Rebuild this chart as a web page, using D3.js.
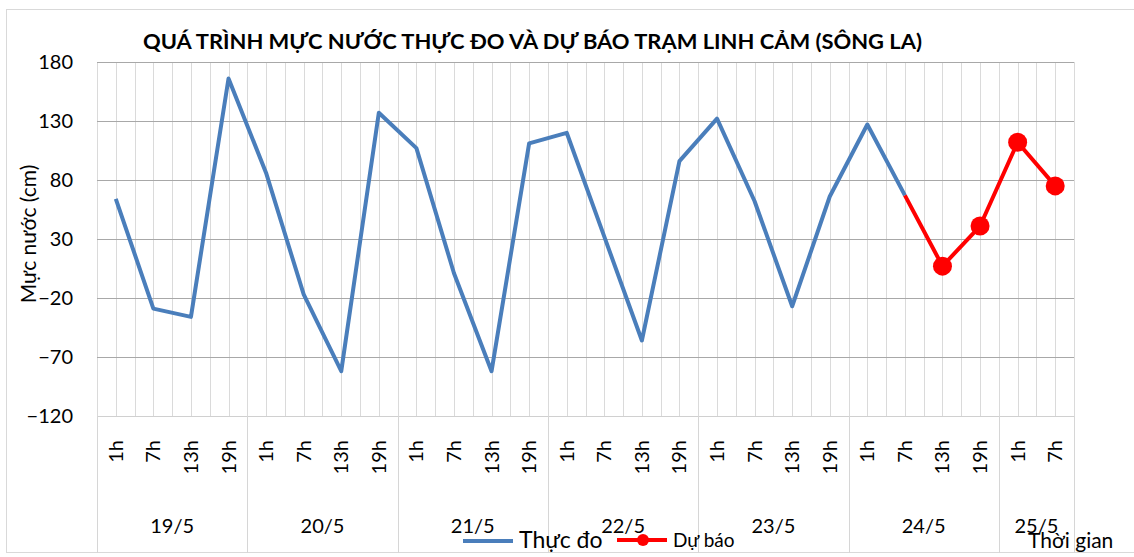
<!DOCTYPE html>
<html>
<head>
<meta charset="utf-8">
<script src="https://cdn.jsdelivr.net/npm/d3@7"></script>
<style>
  html, body { margin: 0; padding: 0; background: #ffffff; }
  svg { display: block; }
  text { font-family: "Lato", "Open Sans", sans-serif; fill: #000; }
</style>
</head>
<body>
<svg id="chart" width="1134" height="557"></svg>
<script>
// ---------- DATA ----------
const days = ["19/5", "20/5", "21/5", "22/5", "23/5", "24/5", "25/5"];
const hoursPerDay = [
  ["1h", "7h", "13h", "19h"],
  ["1h", "7h", "13h", "19h"],
  ["1h", "7h", "13h", "19h"],
  ["1h", "7h", "13h", "19h"],
  ["1h", "7h", "13h", "19h"],
  ["1h", "7h", "13h", "19h"],
  ["1h", "7h"]
];
// Observed water level (cm), 19/5 1h .. 24/5 7h
const observed = [64, -29, -36, 166, 86, -17, -82, 137,
                  107, 1, -82, 111, 120, 32, -56, 96,
                  132, 62, -27, 66, 127, 67];
// Forecast water level (cm), 24/5 13h .. 25/5 7h
const forecast = [7, 41, 112, 75];
const yTicks = [-120, -70, -20, 30, 80, 130, 180];
const titleText = "QUÁ TRÌNH MỰC NƯỚC THỰC ĐO VÀ DỰ BÁO TRẠM LINH CẢM (SÔNG LA)";
const yTitle = "Mực nước (cm)";
const xTitle = "Thời gian";
const legendNames = ["Thực đo", "Dự báo"];

// ---------- BUILD ----------
const categories = [];
hoursPerDay.forEach((hs, di) => hs.forEach(h => categories.push({ day: days[di], dayIndex: di, hour: h })));
const nCat = categories.length;

const svg = d3.select("#chart");
const W = 1134, H = 557;
const plot = { left: 97, right: 1074, top: 62, bottom: 416 };

const x = d3.scaleBand().domain(d3.range(nCat)).range([plot.left, plot.right]).padding(0);
const bw = x.bandwidth();
const cx = i => x(i) + bw / 2;
const y = d3.scaleLinear().domain([-120, 180]).range([plot.bottom, plot.top]);

// outer chart border
svg.append("rect").attr("x", 6.5).attr("y", 9.5).attr("width", W).attr("height", 543)
  .attr("fill", "#fff").attr("stroke", "#d9d9d9");

// vertical minor gridlines (band edges and centres)
const vLines = [];
for (let i = 0; i < nCat; i++) { vLines.push(x(i)); vLines.push(cx(i)); }
vLines.push(plot.right);
svg.append("g").selectAll("line").data(vLines).join("line")
  .attr("x1", d => Math.round(d) + 0.5).attr("x2", d => Math.round(d) + 0.5)
  .attr("y1", plot.top).attr("y2", plot.bottom)
  .attr("stroke", "#dadada").attr("stroke-width", 1);

// horizontal gridlines
svg.append("g").selectAll("line").data(yTicks).join("line")
  .attr("x1", plot.left).attr("x2", plot.right)
  .attr("y1", d => Math.round(y(d)) + 0.5).attr("y2", d => Math.round(y(d)) + 0.5)
  .attr("stroke", d => d === -120 ? "#d0d0d0" : "#a8a8a8").attr("stroke-width", 1);

// y axis labels
const yAxis = d3.axisLeft(y).tickValues(yTicks).tickSize(0).tickPadding(24);
const gy = svg.append("g").attr("transform", `translate(${plot.left},0)`).call(yAxis);
gy.select(".domain").remove();
gy.selectAll("text").style("font-family", "Lato, sans-serif").style("font-size", "20px").attr("fill", "#000");

// day group separators
const dayStarts = [];
let idx = 0;
hoursPerDay.forEach(hs => { dayStarts.push(idx); idx += hs.length; });
const sepX = dayStarts.map(s => x(s)).concat([plot.right]);
svg.append("g").selectAll("line").data(sepX).join("line")
  .attr("x1", d => Math.round(d) + 0.5).attr("x2", d => Math.round(d) + 0.5)
  .attr("y1", plot.bottom).attr("y2", 553)
  .attr("stroke", "#d6d6d6");

// hour labels (rotated)
svg.append("g").selectAll("text").data(categories).join("text")
  .attr("transform", (d, i) => `translate(${cx(i) + 7},440) rotate(-90)`)
  .attr("text-anchor", "end")
  .style("font-size", "20px")
  .text(d => d.hour);

// day labels
svg.append("g").selectAll("text").data(days).join("text")
  .attr("x", (d, i) => (x(dayStarts[i]) + (i + 1 < days.length ? x(dayStarts[i + 1]) : plot.right)) / 2)
  .attr("y", 533)
  .attr("text-anchor", "middle")
  .style("font-size", "20px")
  .text(d => d);

// title
svg.append("text").attr("x", 143).attr("y", 49)
  .attr("textLength", 779).attr("lengthAdjust", "spacingAndGlyphs")
  .style("font-size", "21px").style("font-weight", "bold")
  .text(titleText);

// y title
svg.append("text").attr("transform", "translate(36,234) rotate(-90)")
  .attr("text-anchor", "middle")
  .style("font-size", "21px")
  .text(yTitle);

// x title
svg.append("text").attr("x", 1028).attr("y", 548)
  .style("font-size", "21px")
  .text(xTitle);

// lines
const blue = "#4a7ebb", red = "#ff0000";
const obsPts = observed.map((v, i) => [cx(i), y(v)]);
const lastObs = observed.length - 1;
const fcPts = [[cx(lastObs), y(observed[lastObs])]].concat(forecast.map((v, k) => [cx(lastObs + 1 + k), y(v)]));
const line = d3.line();
svg.append("path").attr("d", line(obsPts)).attr("fill", "none")
  .attr("stroke", blue).attr("stroke-width", 4).attr("stroke-linejoin", "round");
svg.append("path").attr("d", line(fcPts)).attr("fill", "none")
  .attr("stroke", red).attr("stroke-width", 4).attr("stroke-linejoin", "round");
svg.append("g").selectAll("circle").data(forecast).join("circle")
  .attr("cx", (d, k) => cx(lastObs + 1 + k)).attr("cy", d => y(d))
  .attr("r", 9.5).attr("fill", red);

// legend
const lg = svg.append("g");
lg.append("line").attr("x1", 463).attr("x2", 513).attr("y1", 541).attr("y2", 541)
  .attr("stroke", blue).attr("stroke-width", 4);
lg.append("text").attr("x", 519).attr("y", 548).style("font-size", "23px").text(legendNames[0]);
lg.append("line").attr("x1", 617).attr("x2", 667).attr("y1", 540).attr("y2", 540)
  .attr("stroke", red).attr("stroke-width", 4);
lg.append("circle").attr("cx", 643).attr("cy", 540).attr("r", 6).attr("fill", red);
lg.append("text").attr("x", 673).attr("y", 547).style("font-size", "19px").text(legendNames[1]);
</script>
</body>
</html>
